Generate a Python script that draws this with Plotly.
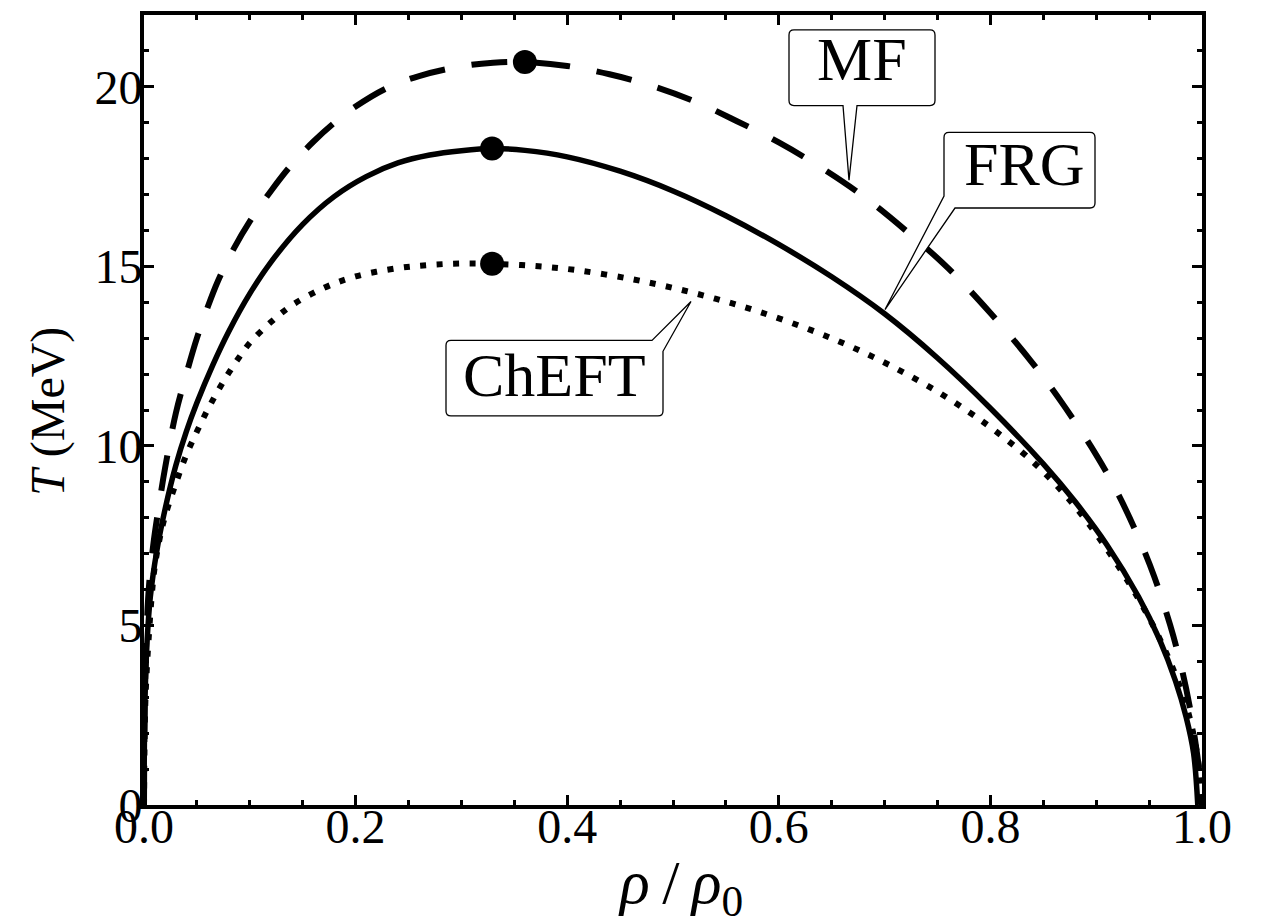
import plotly.graph_objects as go

# ---------------- data ----------------
mf_x = [0.0, 0.0008, 0.0025, 0.005, 0.009, 0.015, 0.02, 0.03, 0.04, 0.05, 0.06, 0.07,
        0.085, 0.1, 0.12, 0.14, 0.16, 0.18, 0.2, 0.23, 0.26, 0.3, 0.33, 0.36, 0.4,
        0.44, 0.48, 0.52, 0.56, 0.6, 0.64, 0.68, 0.72, 0.76, 0.8, 0.84, 0.87, 0.9,
        0.92, 0.94, 0.955, 0.97, 0.98, 0.988, 0.994, 0.998, 1.0]
mf_T = [0.0, 3.0, 4.9, 6.2, 7.3, 8.5, 9.4, 10.9, 12.0, 13.0, 13.85, 14.6,
        15.5, 16.25, 17.1, 17.85, 18.47, 19.0, 19.45, 19.97, 20.3, 20.57, 20.67, 20.69, 20.58,
        20.35, 20.03, 19.6, 19.05, 18.45, 17.75, 16.95, 16.0, 14.95, 13.7, 12.3, 11.1, 9.75,
        8.7, 7.45, 6.35, 5.0, 3.9, 2.8, 1.7, 0.8, 0.0]

frg_x = [0.0, 0.001, 0.003, 0.006, 0.012, 0.02, 0.03, 0.04, 0.05, 0.065, 0.08, 0.1,
         0.12, 0.15, 0.18, 0.21, 0.24, 0.27, 0.3, 0.33, 0.36, 0.4, 0.45, 0.5, 0.55,
         0.6, 0.65, 0.7, 0.75, 0.8, 0.85, 0.88, 0.91, 0.94, 0.96, 0.975, 0.985, 0.992, 0.996]
frg_T = [0.0, 3.0, 4.6, 5.8, 7.06, 8.25, 9.45, 10.4, 11.2, 12.25, 13.18, 14.24,
         15.12, 16.17, 16.95, 17.5, 17.88, 18.1, 18.22, 18.28, 18.23, 18.05, 17.65, 17.1, 16.41,
         15.61, 14.71, 13.68, 12.45, 11.05, 9.5, 8.45, 7.25, 5.8, 4.6, 3.45, 2.45, 1.45, 0.0]

cheft_x = [0.0, 0.001, 0.0025, 0.005, 0.0075, 0.01, 0.015, 0.02, 0.03, 0.04, 0.05, 0.06,
           0.07, 0.08, 0.09, 0.1, 0.12, 0.14, 0.17, 0.2, 0.24, 0.27, 0.3, 0.33, 0.37,
           0.41, 0.46, 0.5, 0.54, 0.58, 0.63, 0.67, 0.71, 0.75, 0.78, 0.8, 0.83, 0.85,
           0.87, 0.89, 0.91, 0.93, 0.945, 0.96, 0.972, 0.984, 0.992, 0.997, 1.0]
cheft_T = [0.0, 2.6, 3.7, 4.9, 5.9, 6.6, 7.45, 8.05, 8.95, 9.75, 10.4, 11.0,
           11.54, 12.03, 12.47, 12.87, 13.45, 13.92, 14.4, 14.72, 14.95, 15.04, 15.08, 15.07, 15.01,
           14.89, 14.65, 14.4, 14.1, 13.75, 13.23, 12.74, 12.17, 11.51, 10.94, 10.52, 9.82, 9.28,
           8.66, 7.94, 7.13, 6.23, 5.48, 4.63, 3.84, 2.88, 1.96, 1.06, 0.0]

peak_x = [0.360, 0.329, 0.329]
peak_T = [20.69, 18.28, 15.07]

x_ticks = [0.0, 0.2, 0.4, 0.6, 0.8, 1.0]
x_labels = ["0.0", "0.2", "0.4", "0.6", "0.8", "1.0"]
y_ticks = [0, 5, 10, 15, 20]
y_labels = ["0", "5", "10", "15", "20"]

labels = ["MF", "FRG", "ChEFT"]

# ---------------- figure ----------------
W, H = 1266, 924
L, R, T_, B = 144, 64, 11, 119
X0, X1 = 0.0, 1.0
Y0, Y1 = 0.0, 22.0
PW, PH = W - L - R, H - T_ - B


def px2x(p):
    return X0 + (p - L) / PW * (X1 - X0)


def py2y(p):
    return Y0 + (H - B - p) / PH * (Y1 - Y0)


def px2paper(p):
    return (p - L) / PW


def py2paper(p):
    return (H - B - p) / PH


fig = go.Figure()
fig.add_trace(go.Scatter(x=mf_x, y=mf_T, mode="lines", name=labels[0],
                         line=dict(color="black", width=6, dash="36px,27px", shape="spline", smoothing=1.0)))
fig.add_trace(go.Scatter(x=frg_x, y=frg_T, mode="lines", name=labels[1],
                         line=dict(color="black", width=5.5, shape="spline", smoothing=1.0)))
fig.add_trace(go.Scatter(x=cheft_x, y=cheft_T, mode="lines", name=labels[2],
                         line=dict(color="black", width=6, dash="6px,10.5px", shape="spline", smoothing=1.0)))
fig.add_trace(go.Scatter(x=peak_x, y=peak_T, mode="markers", showlegend=False,
                         marker=dict(color="black", size=24)))

r = 5


def P(px, py):
    return f"{px2x(px):.5f},{py2y(py):.5f}"


def path_mf():
    x0, y0, x1, y1 = 789, 26, 935, 102
    tip = (849, 177)
    s = f"M {P(x0 + r, y0)} L {P(x1 - r, y0)} Q {P(x1, y0)} {P(x1, y0 + r)}"
    s += f" L {P(x1, y1 - r)} Q {P(x1, y1)} {P(x1 - r, y1)}"
    s += f" L {P(857, y1)} L {P(*tip)} L {P(843, y1)}"
    s += f" L {P(x0 + r, y1)} Q {P(x0, y1)} {P(x0, y1 - r)}"
    s += f" L {P(x0, y0 + r)} Q {P(x0, y0)} {P(x0 + r, y0)} Z"
    return s


def path_frg():
    x0, y0, x1, y1 = 944, 129, 1095, 205
    tip = (885, 307)
    s = f"M {P(x0 + r, y0)} L {P(x1 - r, y0)} Q {P(x1, y0)} {P(x1, y0 + r)}"
    s += f" L {P(x1, y1 - r)} Q {P(x1, y1)} {P(x1 - r, y1)}"
    s += f" L {P(955, y1)} L {P(*tip)} L {P(x0, 193)}"
    s += f" L {P(x0, y0 + r)} Q {P(x0, y0)} {P(x0 + r, y0)} Z"
    return s


def path_cheft():
    x0, y0, x1, y1 = 446, 338, 663, 414
    tip = (691, 299)
    s = f"M {P(x0 + r, y0)} L {P(652, y0)} L {P(*tip)} L {P(x1, 349)}"
    s += f" L {P(x1, y1 - r)} Q {P(x1, y1)} {P(x1 - r, y1)}"
    s += f" L {P(x0 + r, y1)} Q {P(x0, y1)} {P(x0, y1 - r)}"
    s += f" L {P(x0, y0 + r)} Q {P(x0, y0)} {P(x0 + r, y0)} Z"
    return s


for pth in (path_mf(), path_frg(), path_cheft()):
    fig.add_shape(type="path", path=pth, xref="x", yref="y", layer="above",
                  fillcolor="white", line=dict(color="black", width=1.3))

label_pos = [(862, 55), (1024, 161), (554, 373)]
for text, (lx, ly) in zip(labels, label_pos):
    fig.add_annotation(x=px2paper(lx), y=py2paper(ly), xref="paper", yref="paper", text=text,
                       showarrow=False, xanchor="center", yanchor="middle",
                       font=dict(family="Liberation Serif", size=62, color="black"))

# axis titles
fig.add_annotation(x=px2paper(680), y=py2paper(887), xref="paper", yref="paper",
                   text="<i>ρ</i>\u2009/\u2009<i>ρ</i><sub>0</sub>", showarrow=False,
                   xanchor="center", yanchor="middle",
                   font=dict(family="Liberation Serif", size=62, color="black"))
fig.add_annotation(x=px2paper(48), y=py2paper(410), xref="paper", yref="paper",
                   text="<i>T</i> (MeV)", showarrow=False, textangle=-90,
                   xanchor="center", yanchor="middle",
                   font=dict(family="Liberation Serif", size=48, color="black"))

axis_common = dict(showline=True, linewidth=4, linecolor="black", mirror="allticks",
                   ticks="inside", ticklen=10, tickwidth=3, tickcolor="black",
                   showgrid=False, zeroline=False,
                   tickfont=dict(family="Liberation Serif", size=48, color="black"))

fig.update_xaxes(range=[X0, X1], tickvals=x_ticks, ticktext=x_labels,
                 minor=dict(dtick=0.05, ticks="inside", ticklen=5, tickwidth=3, tickcolor="black", showgrid=False),
                 ticklabelstandoff=-24, **axis_common)
fig.update_yaxes(range=[Y0, Y1], tickvals=y_ticks, ticktext=y_labels,
                 minor=dict(dtick=1, ticks="inside", ticklen=5, tickwidth=3, tickcolor="black", showgrid=False),
                 ticklabelstandoff=-12, **axis_common)

fig.update_layout(width=W, height=H, margin=dict(l=L, r=R, t=T_, b=B),
                  paper_bgcolor="white", plot_bgcolor="white", showlegend=False)

fig.write_html("out.html", config={"displayModeBar": False})
